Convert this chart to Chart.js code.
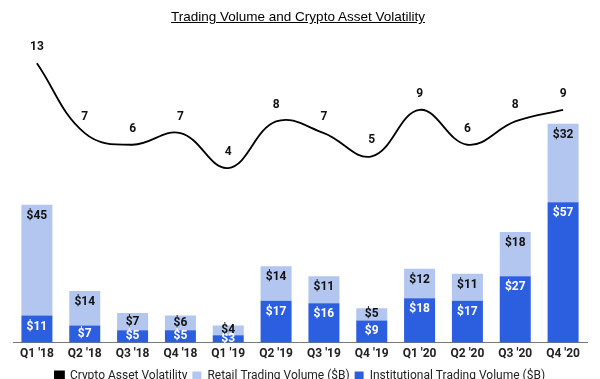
<!DOCTYPE html>
<html>
<head>
<meta charset="utf-8">
<script src="https://cdn.jsdelivr.net/npm/chart.js@4/dist/chart.umd.min.js"></script>
<style>
  html, body { margin: 0; padding: 0; background: #fff; }
  #wrap { position: relative; width: 600px; height: 379px; overflow: hidden; }
  #title { position: absolute; top: 9px; left: 0; width: 596px; text-align: center;
    font-family: "Liberation Sans", Arial, sans-serif; font-size: 13.5px; color: #000;
    text-decoration: underline; }
  canvas { position: absolute; top: 0; left: 0; }
</style>
</head>
<body>
<div id="wrap">
  <canvas id="c" width="600" height="392"></canvas>
  <div id="title">Trading Volume and Crypto Asset Volatility</div>
</div>
<script>
const categories = ["Q1 '18","Q2 '18","Q3 '18","Q4 '18","Q1 '19","Q2 '19","Q3 '19","Q4 '19","Q1 '20","Q2 '20","Q3 '20","Q4 '20"];
const volatility = [13, 7, 6, 7, 4, 8, 7, 5, 9, 6, 8, 9];
const retailVolume = [45, 14, 7, 6, 4, 14, 11, 5, 12, 11, 18, 32];
const institutionalVolume = [11, 7, 5, 5, 3, 17, 16, 9, 18, 17, 27, 57];

const labelPlugin = {
  id: 'valueLabels',
  afterDatasetsDraw(chart) {
    const ctx = chart.ctx;
    ctx.save();
    ctx.font = 'bold 12px Roboto, "Noto Sans", sans-serif';
    ctx.textAlign = 'center';
    ctx.textBaseline = 'middle';
    chart.data.datasets.forEach((ds, di) => {
      const meta = chart.getDatasetMeta(di);
      meta.data.forEach((el, i) => {
        const v = ds.data[i];
        if (ds.type === 'line') {
          ctx.fillStyle = '#111';
          ctx.fillText(String(v), el.x, el.y - 16);
        } else {
          const top = Math.min(el.y, el.base);
          const h = Math.abs(el.base - el.y);
          const off = Math.min(11, Math.max(h / 2, 4));
          ctx.fillStyle = ds.labelColor;
          ctx.fillText('$' + v, el.x, top + off);
        }
      });
    });
    ctx.restore();
  }
};

new Chart(document.getElementById('c'), {
  data: {
    labels: categories,
    datasets: [
      { type: 'bar', label: 'Institutional Trading Volume ($B)', data: institutionalVolume,
        backgroundColor: '#2b5fe0', yAxisID: 'y', stack: 'vol', labelColor: '#ffffff',
        categoryPercentage: 0.8, barPercentage: 0.81 },
      { type: 'bar', label: 'Retail Trading Volume ($B)', data: retailVolume,
        backgroundColor: '#b3c6f0', yAxisID: 'y', stack: 'vol', labelColor: '#111111',
        categoryPercentage: 0.8, barPercentage: 0.81 },
      { type: 'line', label: 'Crypto Asset Volatility', data: volatility,
        borderColor: '#000', backgroundColor: '#000', borderWidth: 1.8,
        pointRadius: 0, tension: 0.4, yAxisID: 'y2' }
    ]
  },
  options: {
    responsive: false,
    animation: false,
    layout: { padding: { top: 40, left: 13, right: 13, bottom: 0 } },
    scales: {
      x: {
        stacked: true,
        grid: { display: false, drawTicks: false, tickLength: 0 },
        border: { display: true, color: '#777', width: 1 },
        ticks: { color: '#222', font: { family: 'Roboto', weight: 'bold', size: 12 }, padding: 4, maxRotation: 0 }
      },
      y: { display: false, stacked: true, min: 0, max: 123 },
      y2: { display: false, min: -11, max: 15 }
    },
    plugins: {
      legend: {
        position: 'bottom',
        labels: {
          boxWidth: 9, boxHeight: 9, color: '#222', padding: 5,
          font: { family: 'Roboto', size: 12 },
          sort: (a, b) => b.datasetIndex - a.datasetIndex
        }
      },
      tooltip: { enabled: false }
    }
  },
  plugins: [labelPlugin]
});
</script>
</body>
</html>
